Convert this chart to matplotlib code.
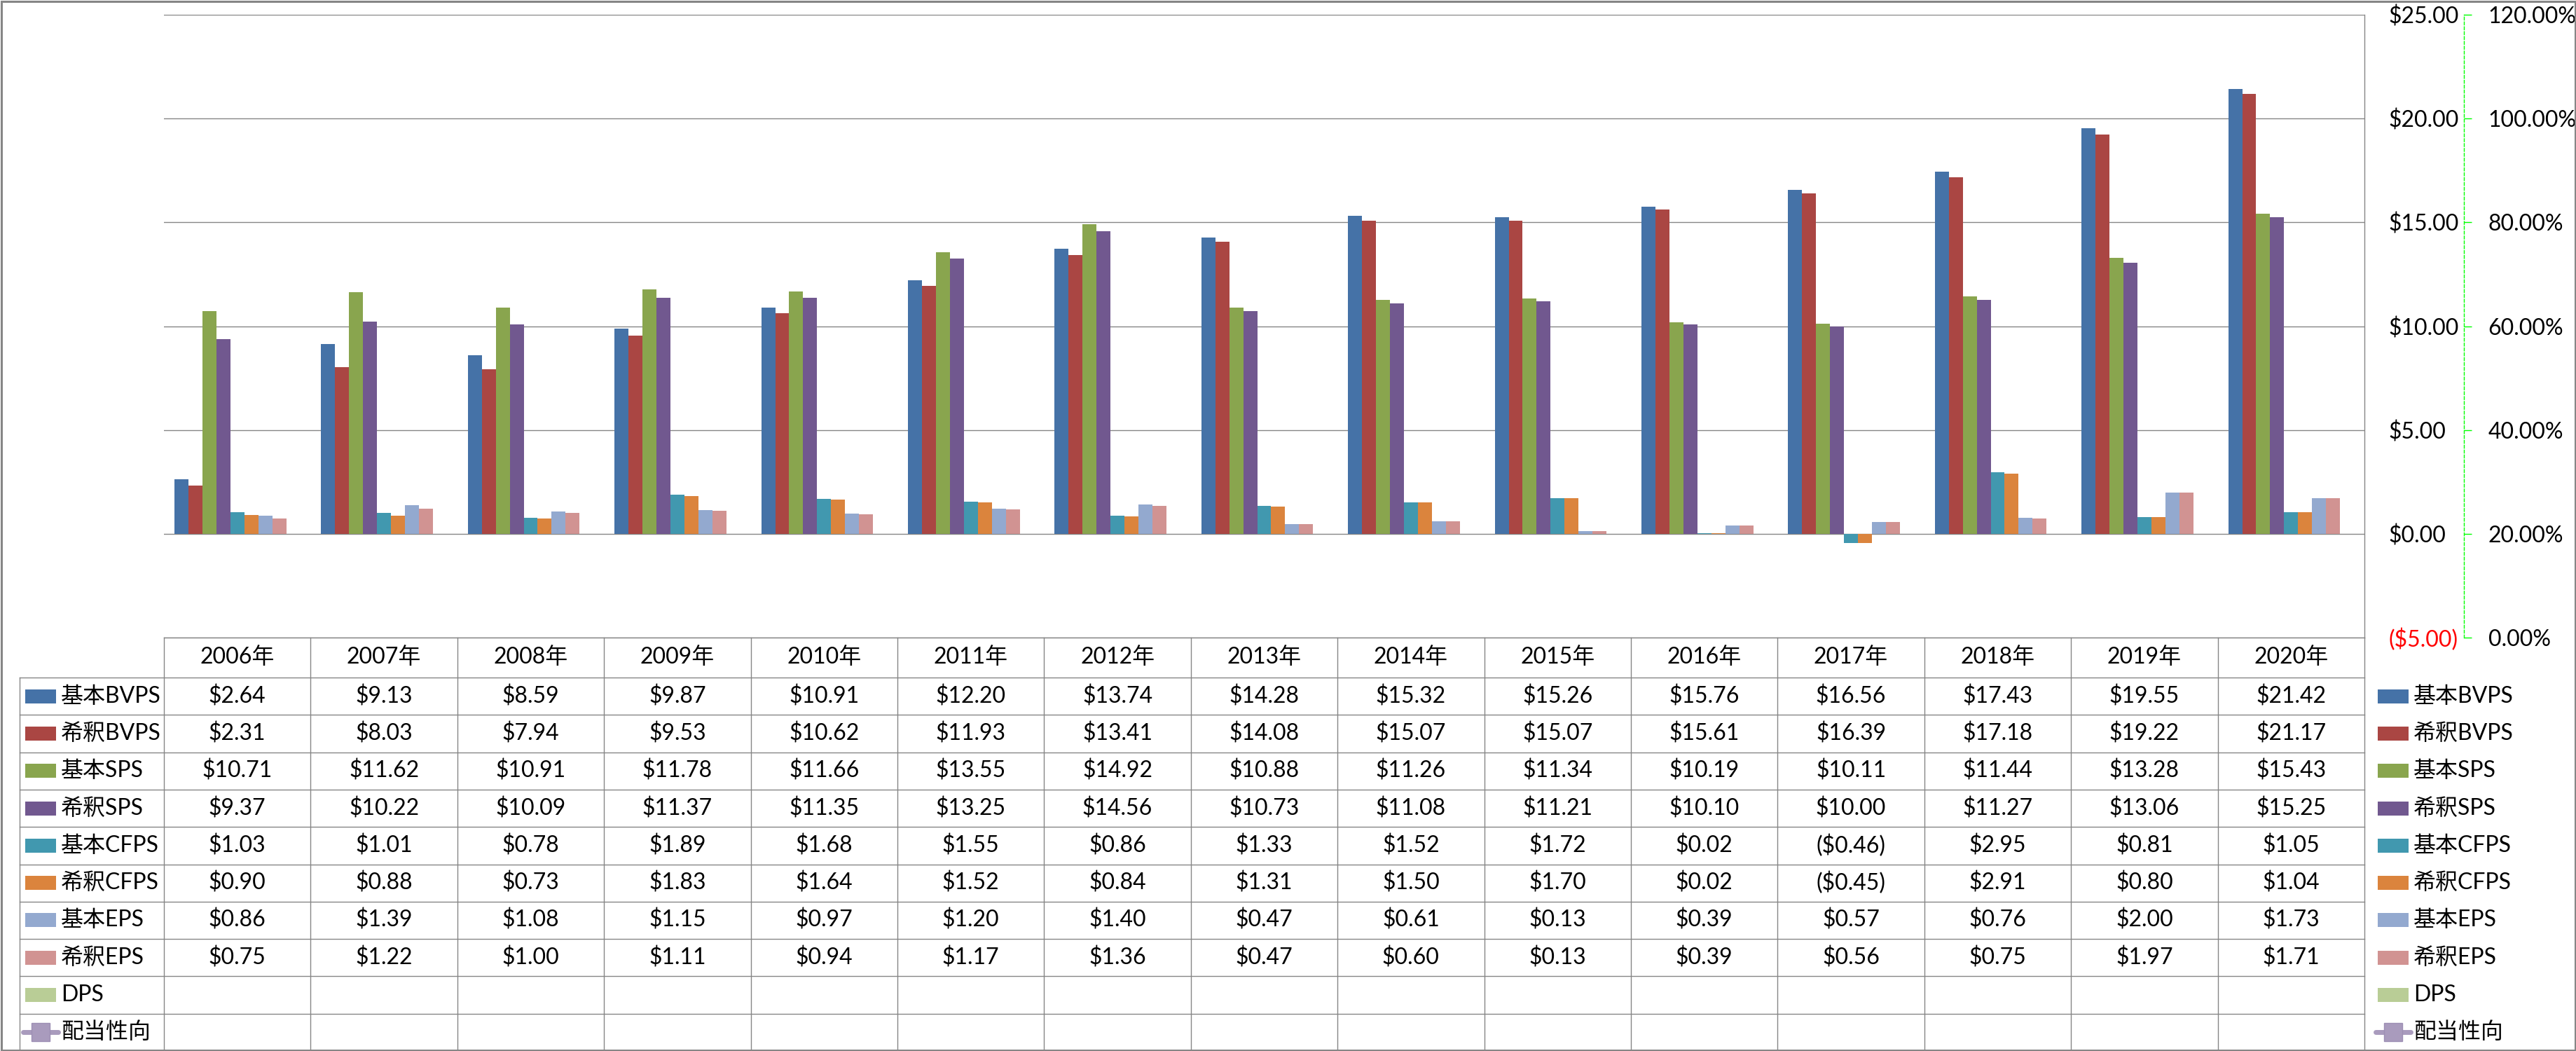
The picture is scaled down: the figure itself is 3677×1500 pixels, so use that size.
import numpy as np
import matplotlib
matplotlib.use("Agg")
import matplotlib.pyplot as plt
import matplotlib.transforms as mtransforms
from matplotlib.patches import Rectangle

plt.rcParams['font.family'] = ['Lato', 'Noto Sans CJK JP', 'DejaVu Sans']

# data
years = ['2006年', '2007年', '2008年', '2009年', '2010年', '2011年', '2012年', '2013年',
         '2014年', '2015年', '2016年', '2017年', '2018年', '2019年', '2020年']
names = ['基本BVPS', '希釈BVPS', '基本SPS', '希釈SPS', '基本CFPS', '希釈CFPS',
         '基本EPS', '希釈EPS', 'DPS', '配当性向']

basic_bvps = [2.64, 9.13, 8.59, 9.87, 10.91, 12.20, 13.74, 14.28, 15.32, 15.26, 15.76, 16.56, 17.43, 19.55, 21.42]
dil_bvps = [2.31, 8.03, 7.94, 9.53, 10.62, 11.93, 13.41, 14.08, 15.07, 15.07, 15.61, 16.39, 17.18, 19.22, 21.17]
basic_sps = [10.71, 11.62, 10.91, 11.78, 11.66, 13.55, 14.92, 10.88, 11.26, 11.34, 10.19, 10.11, 11.44, 13.28, 15.43]
dil_sps = [9.37, 10.22, 10.09, 11.37, 11.35, 13.25, 14.56, 10.73, 11.08, 11.21, 10.10, 10.00, 11.27, 13.06, 15.25]
basic_cfps = [1.03, 1.01, 0.78, 1.89, 1.68, 1.55, 0.86, 1.33, 1.52, 1.72, 0.02, -0.46, 2.95, 0.81, 1.05]
dil_cfps = [0.90, 0.88, 0.73, 1.83, 1.64, 1.52, 0.84, 1.31, 1.50, 1.70, 0.02, -0.45, 2.91, 0.80, 1.04]
basic_eps = [0.86, 1.39, 1.08, 1.15, 0.97, 1.20, 1.40, 0.47, 0.61, 0.13, 0.39, 0.57, 0.76, 2.00, 1.73]
dil_eps = [0.75, 1.22, 1.00, 1.11, 0.94, 1.17, 1.36, 0.47, 0.60, 0.13, 0.39, 0.56, 0.75, 1.97, 1.71]
dps = [None] * 15
payout = [None] * 15

bar_series = [basic_bvps, dil_bvps, basic_sps, dil_sps, basic_cfps, dil_cfps, basic_eps, dil_eps, dps]
colors = ['#4572A7', '#AA4643', '#89A54E', '#71588F', '#4198AF', '#DB843D',
          '#93A9CF', '#D19392', '#B9CD96']
line_color = '#A99BBD'
gray = '#868686'

W, H = 3677, 1500
fig = plt.figure(figsize=(W / 100, H / 100), dpi=100)
fig.patch.set_facecolor('white')

# plot area in pixels
pl, pr, pt, pb = 234, 3375, 21, 910
ax = fig.add_axes([pl / W, 1 - pb / H, (pr - pl) / W, (pb - pt) / H])

n = len(years)
x = np.arange(n)
w = 1 / 10.5
for j, vals in enumerate(bar_series):
    h = np.array([np.nan if v is None else v for v in vals], dtype=float)
    ax.bar(x + (j - 4) * w, h, w, color=colors[j], linewidth=0, zorder=2)

ax.set_xlim(-0.5, n - 0.5)
ax.set_ylim(-5, 25)
yt = np.arange(-5, 26, 5)
ax.set_yticks(yt)
ax.set_xticks([])


def money(v):
    if v < 0:
        return '(${:.2f})'.format(-v)
    return '${:.2f}'.format(v)


fs = 23

# secondary axis (配当性向)
ax2 = ax.twinx()
ax2.set_ylim(0, 1.2)
pt_ticks = np.arange(0, 1.21, 0.2)
ax2.set_yticks(pt_ticks)
ax2.set_yticklabels(['{:.2f}%'.format(v * 100) for v in pt_ticks])
for s in ['left', 'top', 'bottom']:
    ax2.spines[s].set_visible(False)
ax2.spines['right'].set_position(('axes', (3517 - pl) / (pr - pl)))
ax2.spines['right'].set_color('#00FF00')
ax2.spines['right'].set_linestyle((0, (3, 2)))
ax2.spines['right'].set_linewidth(1.0)
ax2.tick_params(axis='y', direction='out', length=8, width=1, color='#00FF00',
                labelcolor='black', pad=17, labelsize=fs)
ax2.plot(x, np.array([np.nan if v is None else v for v in payout], dtype=float),
         color=line_color, marker='s')

# primary axis labels on the right (after twinx, which moves them left)
ax.yaxis.tick_right()
ax.set_yticklabels([money(v) for v in yt])
for lab, v in zip(ax.get_yticklabels(), yt):
    if v < 0:
        lab.set_color('red')
ax.tick_params(axis='y', length=0, pad=25, labelsize=fs)
ax.grid(axis='y', color=gray, linewidth=1.0, zorder=1)
ax.set_axisbelow(True)
for s in ['left', 'top', 'bottom']:
    ax.spines[s].set_visible(False)
ax.spines['right'].set_color(gray)
ax.spines['right'].set_linewidth(1.0)

# data table + legend overlay, y in pixels from top
tab = fig.add_axes([0, 0, 1, 1], zorder=5)
tab.set_xlim(0, W)
tab.set_ylim(H, 0)
tab.axis('off')
tr = mtransforms.blended_transform_factory(ax.transData, tab.transData)

head_top, head_bot = 910, 967
rh = 53.3
row_tops = [head_bot + rh * k for k in range(len(names))]
row_mid = [t + rh / 2 for t in row_tops]

tab.plot([-0.5, n - 0.5], [head_top, head_top], color=gray, lw=1.0, transform=tr)
for yy in row_tops:
    tab.plot([28, pr], [yy, yy], color=gray, lw=1.0)
for i in range(n + 1):
    tab.plot([i - 0.5, i - 0.5], [head_top, H], color=gray, lw=1.0, transform=tr)
tab.plot([28, 28], [head_bot, H], color=gray, lw=1.0)

for i, yr in enumerate(years):
    tab.text(i, (head_top + head_bot) / 2, yr, transform=tr, ha='center', va='center', fontsize=fs)

for k, vals in enumerate(bar_series + [payout]):
    for i, v in enumerate(vals):
        if v is None:
            continue
        tab.text(i, row_mid[k], money(v), transform=tr, ha='center', va='center', fontsize=fs)

# legend keys (table column and right side)
for k, name in enumerate(names):
    cy = row_mid[k]
    for kx, tx in [(36, 87), (3394, 3445)]:
        if k < 9:
            tab.add_patch(Rectangle((kx, cy - 10), 44, 20, facecolor=colors[k], edgecolor='none'))
        else:
            tab.plot([kx - 3, kx + 47], [cy, cy], color=line_color, lw=5, solid_capstyle='round')
            tab.plot([kx + 22], [cy], marker='s', markersize=19, color=line_color,
                     markeredgecolor='#9D8FB4', markeredgewidth=1)
        tab.text(tx, cy, name, ha='left', va='center', fontsize=fs)

# outer border
tab.add_patch(Rectangle((1.5, 1.5), W - 3, H - 3, fill=False, edgecolor=gray, lw=2.2, clip_on=False))

fig.savefig('out.png', dpi=100, facecolor='white')
